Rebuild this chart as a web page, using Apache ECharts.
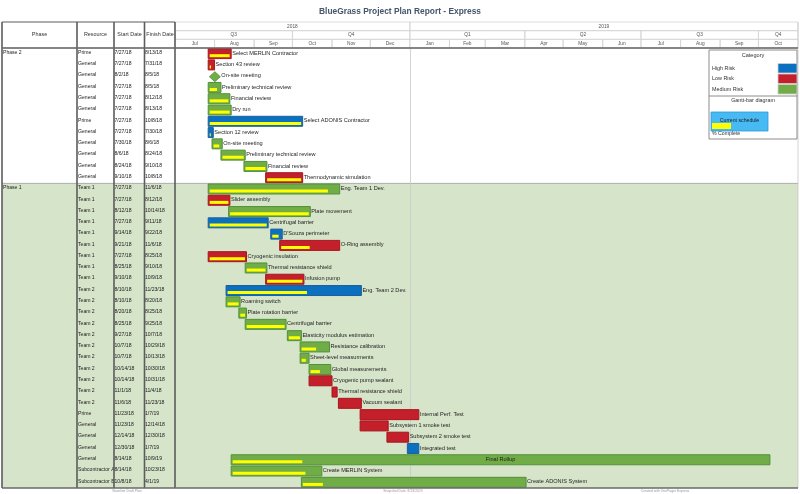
<!DOCTYPE html>
<html>
<head>
<meta charset="utf-8">
<script src="https://cdn.jsdelivr.net/npm/echarts@6/dist/echarts.min.js"></script>
<style>
html, body { margin: 0; padding: 0; background: #fff; }
#main { width: 800px; height: 494px; }
</style>
</head>
<body>
<div id="main"></div>
<script>
var dom = document.getElementById('main');
var myChart = echarts.init(dom);

// ---- data ----
var taskNames = ['Select MERLIN Contractor', 'Section 43 review', 'On-site meeting', 'Preliminary technical review',
  'Financial review', 'Dry run', 'Select ADONIS Contractor', 'Section 12 review', 'On-site meeting',
  'Preliminary technical review', 'Financial review', 'Thermodynamic simulation',
  'Eng. Team 1 Dev.', 'Slider assembly', 'Plate movement', 'Centrifugal barrier', "D'Souza perimeter",
  'O-Ring assembly', 'Cryogenic insulation', 'Thermal resistance shield', 'Infusion pump', 'Eng. Team 2 Dev.',
  'Roaming switch', 'Plate rotation barrier', 'Centrifugal barrier', 'Elasticity modulus estimation',
  'Resistance calibration', 'Sheet-level measurments', 'Global measurements', 'Cryogenic pump sealant',
  'Thermal resistance shield', 'Vacuum sealant', 'Internal Perf. Test', 'Subsystem 1 smoke test',
  'Subsystem 2 smoke test', 'Integrated test', 'Final Rollup', 'Create MERLIN System', 'Create ADONIS System'];
var resources = ['Prime', 'General', 'General', 'General', 'General', 'General', 'Prime', 'General', 'General',
  'General', 'General', 'General',
  'Team 1', 'Team 1', 'Team 1', 'Team 1', 'Team 1', 'Team 1', 'Team 1', 'Team 1', 'Team 1',
  'Team 2', 'Team 2', 'Team 2', 'Team 2', 'Team 2', 'Team 2', 'Team 2', 'Team 2', 'Team 2', 'Team 2', 'Team 2',
  'Prime', 'General', 'General', 'General', 'General', 'Subcontractor A', 'Subcontractor B'];
var startDates = ['7/27/18', '7/27/18', '8/2/18', '7/27/18', '7/27/18', '7/27/18', '7/27/18', '7/27/18', '7/30/18',
  '8/6/18', '8/24/18', '9/10/18',
  '7/27/18', '7/27/18', '8/12/18', '7/27/18', '9/14/18', '9/21/18', '7/27/18', '8/25/18', '9/10/18',
  '8/10/18', '8/10/18', '8/20/18', '8/25/18', '9/27/18', '10/7/18', '10/7/18', '10/14/18', '10/14/18', '11/1/18', '11/6/18',
  '11/23/18', '11/23/18', '12/14/18', '12/30/18', '8/14/18', '8/14/18', '10/8/18'];
var finishDates = ['8/13/18', '7/31/18', '8/5/18', '8/5/18', '8/12/18', '8/13/18', '10/8/18', '7/30/18', '8/6/18',
  '8/24/18', '9/10/18', '10/8/18',
  '11/6/18', '8/12/18', '10/14/18', '9/11/18', '9/22/18', '11/6/18', '8/25/18', '9/10/18', '10/9/18',
  '11/23/18', '8/20/18', '8/25/18', '9/25/18', '10/7/18', '10/29/18', '10/13/18', '10/30/18', '10/31/18', '11/4/18', '11/23/18',
  '1/7/19', '12/14/18', '12/30/18', '1/7/19', '10/9/19', '10/23/18', '4/1/19'];
// 0 = High Risk, 1 = Low Risk, 2 = Medium Risk
var risks = [1, 1, 2, 2, 2, 2, 0, 0, 2, 2, 2, 1,
  2, 1, 2, 0, 0, 1, 1, 2, 1, 0, 2, 2, 2, 2, 2, 2, 2, 1, 1, 1, 1, 1, 1, 0, 2, 2, 2];
var percentDone = [1, 0.4, 0, 0.75, 1, 1, 1, 0.5, 0.8, 1, 1, 1,
  0.92, 1, 1, 1, 0.75, 0.5, 1, 1, 1, 0.6, 1, 1, 1, 1, 0.55, 0.7, 0.5, 0, 0, 0, 0, 0, 0, 0, 0.13, 0.83, 0.09];
var milestoneRows = [2];
var phaseNames = ['Phase 2', 'Phase 1'];
var phaseSizes = [12, 27];
var phaseColors = ['#ffffff', '#d6e4c9'];

var riskNames = ['High Risk', 'Low Risk', 'Medium Risk'];
var riskFill = ['#0a70bf', '#c3202b', '#70ad47'];
var riskStroke = ['#1d5f9c', '#a8151f', '#52903a'];

var yearLabels = ['2018', '2019'];
var quarterLabels = ['Q3', 'Q4', 'Q1', 'Q2', 'Q3', 'Q4'];
var monthLabels = ['Jul', 'Aug', 'Sep', 'Oct', 'Nov', 'Dec', 'Jan', 'Feb', 'Mar', 'Apr', 'May', 'Jun', 'Jul', 'Aug', 'Sep', 'Oct'];

var FONT = "'Liberation Sans Narrow', 'Liberation Sans', Arial, sans-serif";
var DAY = 86400000;
var tMin = new Date(2018, 6, 1).getTime();
var tMax = new Date(2019, 10, 1).getTime();

function toTime(s) {
  var p = s.split('/');
  return new Date(2000 + parseInt(p[2], 10), parseInt(p[0], 10) - 1, parseInt(p[1], 10)).getTime();
}

var rowIds = taskNames.map(function (n, i) { return 'r' + i; });

var taskData = taskNames.map(function (n, i) {
  return [i, toTime(startDates[i]), toTime(finishDates[i]) + DAY, percentDone[i], risks[i],
    milestoneRows.indexOf(i) >= 0 ? 1 : 0];
});

var tableData = taskNames.map(function (n, i) { return [0, i]; });

var phaseData = [];
var rowStart = 0;
phaseSizes.forEach(function (sz, k) {
  phaseData.push([0, rowStart, rowStart + sz - 1, k]);
  rowStart += sz;
});

// header cells: [level, start, end, label]
var headerData = [];
yearLabels.forEach(function (y, k) {
  var s = k === 0 ? new Date(2018, 6, 1) : new Date(2019, 0, 1);
  var e = k === 0 ? new Date(2019, 0, 1) : new Date(2020, 0, 1);
  headerData.push([0, s.getTime(), e.getTime(), y]);
});
quarterLabels.forEach(function (q, k) {
  headerData.push([1, new Date(2018, 6 + 3 * k, 1).getTime(), new Date(2018, 9 + 3 * k, 1).getTime(), q]);
});
monthLabels.forEach(function (m, k) {
  headerData.push([2, new Date(2018, 6 + k, 1).getTime(), new Date(2018, 7 + k, 1).getTime(), m]);
});

// column left edges in the table grid (pixels from grid left)
var colX = [1, 76, 112.5, 143];

function renderTask(params, api) {
  var i = params.dataIndex;
  var row = api.value(0);
  var p0 = api.coord([api.value(1), row]);
  var p1 = api.coord([api.value(2), row]);
  var band = api.size([0, 1])[1];
  var top = p0[1] - band / 2;
  var r = api.value(4);
  var cs = params.coordSys;
  var children = [];
  var name = taskNames[i];
  var fs = 5.6;
  var labelX, labelAlign = 'left';
  if (api.value(5)) {
    var cx = p0[0] - 1, cy = p0[1] + 0.5;
    children.push({
      type: 'polygon',
      shape: { points: [[cx, cy - 5], [cx + 5.5, cy], [cx, cy + 5], [cx - 5.5, cy]] },
      style: { fill: riskFill[r], stroke: riskStroke[r], lineWidth: 0.8 }
    });
    labelX = cx + 6.5;
  } else {
    var w = p1[0] - p0[0];
    children.push({
      type: 'rect',
      shape: { x: p0[0], y: top + 0.6, width: w, height: 10 },
      style: { fill: riskFill[r], stroke: riskStroke[r], lineWidth: 1 }
    });
    var pw = api.value(3) * (w - 3);
    if (pw > 0) {
      children.push({
        type: 'rect',
        shape: { x: p0[0] + 1.5, y: top + 6.2, width: pw, height: 3 },
        style: { fill: '#ffff00' }
      });
    }
    labelX = p1[0] + 1;
    if (p1[0] + name.length * fs * 0.48 > cs.x + cs.width) {
      labelX = (p0[0] + p1[0]) / 2;
      labelAlign = 'center';
    }
  }
  children.push({
    type: 'text',
    style: {
      x: labelX, y: p0[1] - 0.5, text: name, fill: '#1e1e1e',
      font: fs + 'px ' + FONT, align: labelAlign, verticalAlign: 'middle'
    }
  });
  return { type: 'group', children: children };
}

function renderTableRow(params, api) {
  var i = api.value(1);
  var p = api.coord([0, i]);
  var x0 = params.coordSys.x;
  var y = p[1] - 1.2;
  var texts = [];
  var first = 0;
  phaseSizes.forEach(function (sz, k) {
    if (i === first) texts.push([colX[0], phaseNames[k]]);
    first += sz;
  });
  texts.push([colX[1], resources[i]], [colX[2], startDates[i]], [colX[3], finishDates[i]]);
  return {
    type: 'group',
    children: texts.map(function (t) {
      return {
        type: 'text',
        style: { x: x0 + t[0], y: y, text: t[1], fill: '#222', font: '5.1px ' + FONT, verticalAlign: 'middle' }
      };
    })
  };
}

function renderPhase(params, api) {
  var a = api.coord([0, api.value(1)]);
  var b = api.coord([0, api.value(2)]);
  var band = api.size([0, 1])[1];
  var y0 = a[1] - band / 2;
  var y1 = b[1] + band / 2;
  var x0 = params.coordSys.x;
  var x1 = api.getWidth() - 2;
  return {
    type: 'group',
    children: [
      { type: 'rect', shape: { x: x0, y: y0, width: x1 - x0, height: y1 - y0 },
        style: { fill: phaseColors[api.value(3)] } },
      { type: 'line', shape: { x1: x0, y1: y0, x2: x1, y2: y0 },
        style: { stroke: '#9a9a9a', lineWidth: 0.8 } }
    ]
  };
}

function renderHeader(params, api) {
  var lvl = api.value(0);
  var cs = params.coordSys;
  var s = Math.max(api.value(1), tMin);
  var e = Math.min(api.value(2), tMax);
  var a = api.coord([s, lvl]);
  var b = api.coord([e, lvl]);
  var band = api.size([0, 1])[1];
  var x0 = Math.max(a[0], cs.x);
  var x1 = Math.min(b[0], cs.x + cs.width);
  return {
    type: 'group',
    children: [
      { type: 'rect', shape: { x: x0, y: a[1] - band / 2, width: x1 - x0, height: band },
        style: { fill: 'none', stroke: '#d4d4d4', lineWidth: 0.8 } },
      { type: 'text', style: { x: (x0 + x1) / 2, y: a[1], text: headerData[params.dataIndex][3],
        fill: '#555', font: '4.8px ' + FONT, align: 'center', verticalAlign: 'middle' } }
    ]
  };
}

// ---- frame, titles and legend ----
var TOP = 22, HEAD = 48, BOT = 488;
var graphics = [
  { type: 'text', left: 'center', top: 8, z: 100,
    style: { text: 'BlueGrass Project Plan Report - Express', fill: '#44546a', font: 'bold 8.4px ' + FONT } }
];
[2, 77, 114, 144.5, 175].forEach(function (x) {
  graphics.push({ type: 'line', z: 100, shape: { x1: x, y1: TOP, x2: x, y2: BOT },
    style: { stroke: '#5c5c5c', lineWidth: 1.6 } });
});
graphics.push({ type: 'line', z: 100, shape: { x1: 798, y1: TOP, x2: 798, y2: BOT }, style: { stroke: '#c8c8c8', lineWidth: 0.8 } });
graphics.push({ type: 'line', z: 100, shape: { x1: 2, y1: TOP, x2: 175, y2: TOP }, style: { stroke: '#5c5c5c', lineWidth: 1.2 } });
graphics.push({ type: 'line', z: 100, shape: { x1: 2, y1: HEAD, x2: 798, y2: HEAD }, style: { stroke: '#6a6a6a', lineWidth: 1.6 } });
graphics.push({ type: 'line', z: 100, shape: { x1: 2, y1: BOT, x2: 798, y2: BOT }, style: { stroke: '#6a6a6a', lineWidth: 1.6 } });
[['Phase', 39.5], ['Resource', 95.5], ['Start Date', 129.5], ['Finish Date', 160]].forEach(function (h) {
  graphics.push({ type: 'text', z: 100, style: { x: h[1], y: 35, text: h[0], fill: '#333',
    font: '5.4px ' + FONT, align: 'center', verticalAlign: 'middle' } });
});
[['Baseline Draft Plan', 127], ['Snapshot Date: 8/23/2019', 403], ['Created with OnePager Express', 665]].forEach(function (f) {
  graphics.push({ type: 'text', z: 100, style: { x: f[1], y: 491.5, text: f[0], fill: '#999',
    font: '3.4px ' + FONT, align: 'center', verticalAlign: 'middle' } });
});
// legend box
graphics.push({ type: 'rect', z: 100, shape: { x: 709, y: 50, width: 88, height: 89 },
  style: { fill: '#fff', stroke: '#8c8c8c', lineWidth: 1 } });
graphics.push({ type: 'text', z: 101, style: { x: 753, y: 55.5, text: 'Category', fill: '#333',
  font: '5.6px ' + FONT, align: 'center', verticalAlign: 'middle' } });
riskNames.forEach(function (n, k) {
  var y = 63.5 + k * 10.5;
  graphics.push({ type: 'text', z: 101, style: { x: 712, y: y + 4.8, text: n, fill: '#333',
    font: '5.4px ' + FONT, verticalAlign: 'middle' } });
  graphics.push({ type: 'rect', z: 101, shape: { x: 778, y: y, width: 19, height: 9.5 },
    style: { fill: riskFill[k], stroke: '#cfcfcf', lineWidth: 0.8 } });
});
graphics.push({ type: 'line', z: 101, shape: { x1: 709, y1: 96, x2: 797, y2: 96 }, style: { stroke: '#8c8c8c', lineWidth: 1 } });
graphics.push({ type: 'text', z: 101, style: { x: 753, y: 100.5, text: 'Gantt-bar diagram', fill: '#333',
  font: '5.4px ' + FONT, align: 'center', verticalAlign: 'middle' } });
graphics.push({ type: 'rect', z: 101, shape: { x: 711, y: 112, width: 57, height: 19 },
  style: { fill: '#47b9f3', stroke: '#2f9ad6', lineWidth: 0.8 } });
graphics.push({ type: 'rect', z: 102, shape: { x: 712, y: 123, width: 19, height: 6 }, style: { fill: '#ffff00' } });
graphics.push({ type: 'text', z: 103, style: { x: 739.5, y: 120.5, text: 'Current schedule', fill: '#1e1e1e',
  font: '5.2px ' + FONT, align: 'center', verticalAlign: 'middle' } });
graphics.push({ type: 'text', z: 101, style: { x: 712, y: 133.5, text: '% Complete', fill: '#333',
  font: '5.2px ' + FONT, verticalAlign: 'middle' } });

option = {
  animation: false,
  backgroundColor: '#ffffff',
  grid: [
    { left: 2, top: HEAD, width: 173, height: BOT - HEAD },
    { left: 175, top: HEAD, right: 2, height: BOT - HEAD },
    { left: 175, top: TOP, right: 2, height: HEAD - TOP }
  ],
  xAxis: [
    { type: 'value', gridIndex: 0, min: 0, max: 173, show: false },
    { type: 'time', gridIndex: 1, min: tMin, max: tMax, show: false },
    { type: 'time', gridIndex: 2, min: tMin, max: tMax, show: false }
  ],
  yAxis: [
    { type: 'category', gridIndex: 0, data: rowIds, inverse: true, show: false },
    { type: 'category', gridIndex: 1, data: rowIds, inverse: true, show: false },
    { type: 'category', gridIndex: 2, data: ['year', 'quarter', 'month'], inverse: true, show: false }
  ],
  graphic: graphics,
  series: [
    {
      type: 'custom', name: 'phases', xAxisIndex: 0, yAxisIndex: 0, z: 0,
      renderItem: renderPhase, data: phaseData, silent: true
    },
    {
      type: 'custom', name: 'table', xAxisIndex: 0, yAxisIndex: 0, z: 5,
      renderItem: renderTableRow, data: tableData, silent: true
    },
    {
      type: 'custom', name: 'header', xAxisIndex: 2, yAxisIndex: 2, z: 5,
      renderItem: renderHeader, data: headerData, silent: true
    },
    {
      type: 'custom', name: 'tasks', xAxisIndex: 1, yAxisIndex: 1, z: 6,
      renderItem: renderTask, data: taskData,
      encode: { x: [1, 2], y: 0 },
      markLine: {
        silent: true, symbol: 'none', z: 1,
        label: { show: false },
        lineStyle: { color: '#c9c9c9', width: 0.8, type: 'solid' },
        data: [{ xAxis: new Date(2019, 0, 1).getTime() }]
      }
    }
  ]
};

if (option && typeof option === 'object') {
  myChart.setOption(option, true);
}
</script>
</body>
</html>
